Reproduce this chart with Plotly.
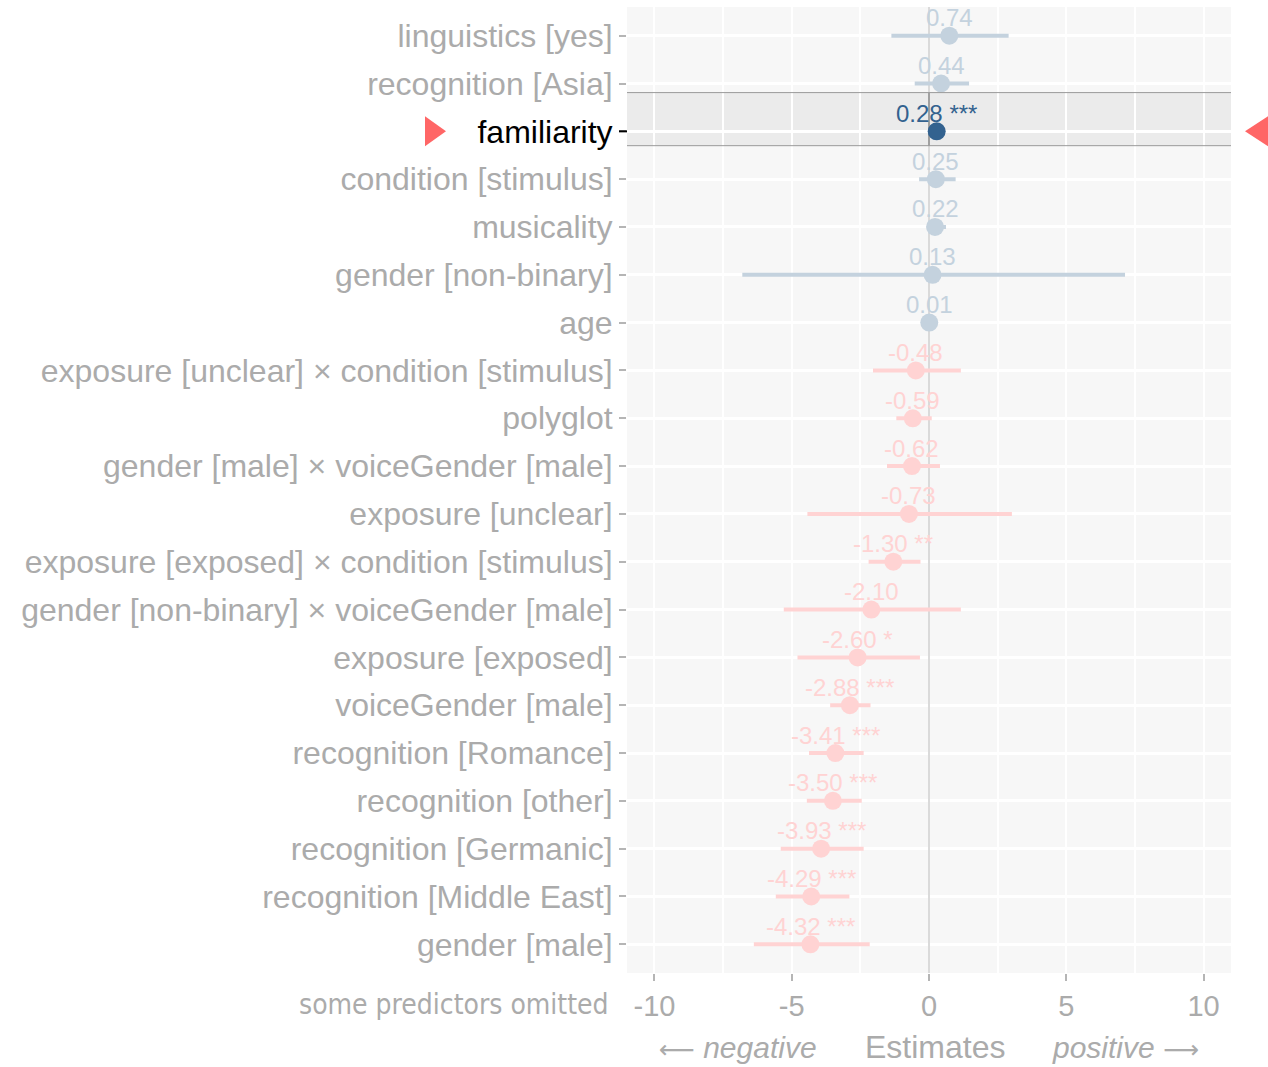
import plotly.graph_objects as go

# Model terms, top to bottom
terms = [
    "linguistics [yes]", "recognition [Asia]", "familiarity", "condition [stimulus]",
    "musicality", "gender [non-binary]", "age",
    "exposure [unclear] × condition [stimulus]", "polyglot",
    "gender [male] × voiceGender [male]", "exposure [unclear]",
    "exposure [exposed] × condition [stimulus]",
    "gender [non-binary] × voiceGender [male]", "exposure [exposed]",
    "voiceGender [male]", "recognition [Romance]", "recognition [other]",
    "recognition [Germanic]", "recognition [Middle East]", "gender [male]",
]
estimates = [0.74, 0.44, 0.28, 0.25, 0.22, 0.13, 0.01, -0.48, -0.59, -0.62,
             -0.73, -1.30, -2.10, -2.60, -2.88, -3.41, -3.50, -3.93, -4.29, -4.32]
ci_low = [-1.37, -0.52, 0.20, -0.36, -0.07, -6.80, -0.02, -2.04, -1.19, -1.53,
          -4.43, -2.20, -5.29, -4.79, -3.60, -4.37, -4.45, -5.40, -5.58, -6.38]
ci_high = [2.90, 1.46, 0.36, 0.97, 0.62, 7.14, 0.04, 1.16, 0.10, 0.40,
           3.02, -0.31, 1.16, -0.33, -2.13, -2.38, -2.45, -2.38, -2.90, -2.16]
stars = ["", "", "***", "", "", "", "", "", "", "",
         "", "**", "", "*", "***", "***", "***", "***", "***", "***"]
focus_term = "familiarity"

x_ticks = [-10, -5, 0, 5, 10]

FONT = "Liberation Sans, Arial, sans-serif"
ARROW_FONT = "DejaVu Sans"
COL_POS = "#C4D2DE"
COL_NEG = "#FFD3D3"
COL_FOCUS = "#33628F"
COL_TEXT = "#ABABAB"
COL_MARK = "#FF6666"

n = len(terms)
idx = list(range(n))
focus_i = terms.index(focus_term)


def group_of(i):
    if terms[i] == focus_term:
        return "focus"
    return "pos" if estimates[i] > 0 else "neg"


colors = {"pos": COL_POS, "neg": COL_NEG, "focus": COL_FOCUS}

fig = go.Figure()

for g in ["pos", "neg", "focus"]:
    sel = [i for i in idx if group_of(i) == g]
    fig.add_trace(go.Scatter(
        x=[estimates[i] for i in sel],
        y=sel,
        mode="markers",
        marker=dict(size=18, color=colors[g], line=dict(width=0)),
        error_x=dict(
            type="data", symmetric=False,
            array=[ci_high[i] - estimates[i] for i in sel],
            arrayminus=[estimates[i] - ci_low[i] for i in sel],
            color=colors[g], thickness=4, width=0,
        ),
        showlegend=False,
        hoverinfo="skip",
    ))

# value labels above each estimate
for i in idx:
    label = f"{estimates[i]:.2f}" + (f" {stars[i]}" if stars[i] else "")
    fig.add_annotation(
        x=estimates[i], y=i, text=label, showarrow=False,
        xanchor="center", yanchor="middle", yshift=18,
        font=dict(family=FONT, size=24, color=colors[group_of(i)]),
    )

# highlighted row band
band_top, band_bottom = focus_i - 0.81, focus_i + 0.30
fig.add_shape(type="rect", xref="paper", yref="y", x0=0, x1=1,
              y0=band_top, y1=band_bottom, fillcolor="#EBEBEB",
              line=dict(width=0), layer="below")
for yb in (band_top, band_bottom):
    fig.add_shape(type="line", xref="paper", yref="y", x0=0, x1=1,
                  y0=yb, y1=yb, line=dict(color="#9A9A9A", width=1),
                  layer="above")
fig.add_shape(type="line", xref="x", yref="y", x0=0, x1=0,
              y0=band_top, y1=band_bottom,
              line=dict(color="#A0A0A0", width=2), layer="between")

# markers pointing at the highlighted term
fig.add_shape(type="path", xref="paper", xsizemode="pixel", xanchor=0,
              yref="y", ysizemode="pixel", yanchor=focus_i,
              path="M -202,-15 L -181,0 L -202,15 Z",
              fillcolor=COL_MARK, line=dict(width=0))
fig.add_shape(type="path", xref="paper", xsizemode="pixel", xanchor=1,
              yref="y", ysizemode="pixel", yanchor=focus_i,
              path="M 14,0 L 37,-15 L 37,15 Z",
              fillcolor=COL_MARK, line=dict(width=0))
# dark tick for the highlighted term
fig.add_shape(type="line", xref="paper", xsizemode="pixel", xanchor=0,
              x0=-8, x1=0, yref="y", y0=focus_i, y1=focus_i,
              line=dict(color="black", width=2))

ticktext = [f"<span style='color:black'>{t}</span>" if t == focus_term else t
            for t in terms]

fig.update_yaxes(
    range=[n - 1 + 0.6, -0.6], tickvals=idx, ticktext=ticktext,
    tickfont=dict(family=FONT, size=32, color=COL_TEXT),
    ticks="outside", ticklen=7, tickwidth=2, tickcolor="#B5B5B5",
    showgrid=True, gridcolor="white", gridwidth=2.5,
    zeroline=False, showline=False,
)
fig.update_xaxes(
    range=[-11, 11], tickvals=x_ticks, ticktext=[str(v) for v in x_ticks],
    tickfont=dict(family=FONT, size=29, color=COL_TEXT),
    ticks="outside", ticklen=7, tickwidth=2, tickcolor="#B5B5B5",
    showgrid=True, gridcolor="white", gridwidth=2,
    minor=dict(tickvals=[-7.5, -2.5, 2.5, 7.5], showgrid=True,
               gridcolor="white", gridwidth=2, ticks=""),
    zeroline=True, zerolinecolor="#DADADA", zerolinewidth=2,
    showline=False,
)

# x-axis caption pieces
arrow_l = f"<span style='font-family:{ARROW_FONT};font-size:25px'>⟵</span>"
arrow_r = f"<span style='font-family:{ARROW_FONT};font-size:25px'>⟶</span>"
fig.add_annotation(xref="paper", yref="paper", x=0.0497, y=0, yshift=-74,
                   xanchor="left", yanchor="middle", showarrow=False,
                   text=f"{arrow_l} <i>negative</i>",
                   font=dict(family=FONT, size=30, color=COL_TEXT))
fig.add_annotation(xref="paper", yref="paper", x=0.51, y=0, yshift=-74,
                   xanchor="center", yanchor="middle", showarrow=False,
                   text="Estimates",
                   font=dict(family=FONT, size=32, color=COL_TEXT))
fig.add_annotation(xref="paper", yref="paper", x=0.950, y=0, yshift=-74,
                   xanchor="right", yanchor="middle", showarrow=False,
                   text=f"<i>positive</i> {arrow_r}",
                   font=dict(family=FONT, size=30, color=COL_TEXT))
fig.add_annotation(xref="paper", yref="paper", x=0, xshift=-16, y=0, yshift=-31,
                   xanchor="right", yanchor="middle", showarrow=False,
                   text="some predictors omitted",
                   font=dict(family="DejaVu Sans Condensed, sans-serif",
                             size=28, color=COL_TEXT))

fig.update_layout(
    width=1268, height=1067, autosize=False,
    margin=dict(l=627, r=37, t=7, b=94),
    plot_bgcolor="#F7F7F7", paper_bgcolor="white",
    font=dict(family=FONT),
)

fig.write_html("out.html")
